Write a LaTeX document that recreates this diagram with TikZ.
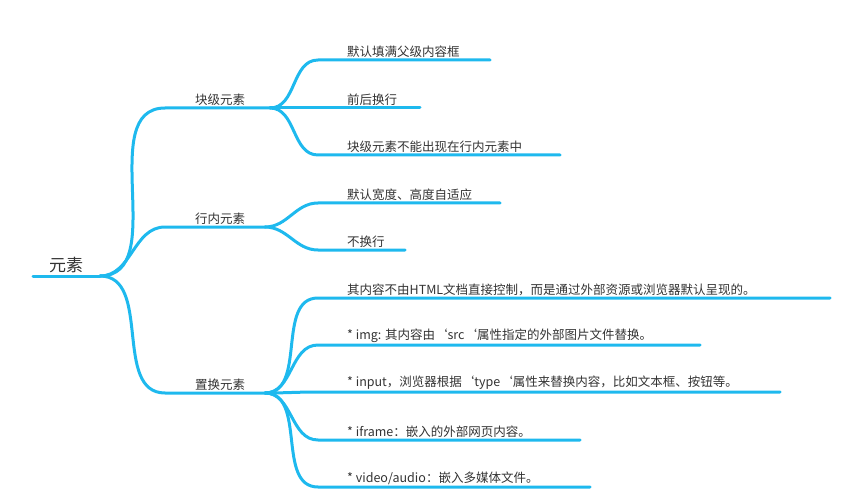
\documentclass[tikz,border=0pt]{standalone}
\usepackage{fontspec}
\setmainfont{Noto Sans CJK SC}
\definecolor{branchblue}{HTML}{1EB9EE}
\definecolor{textgray}{HTML}{333333}
\tikzset{
  edge/.style={branchblue, line width=3pt, line cap=round},
  leaf/.style={anchor=south west, inner sep=2pt, text=textgray, font=\fontsize{12.5}{14}\selectfont},
  topic/.style={anchor=south, inner sep=2pt, text=textgray, font=\fontsize{12.5}{14}\selectfont}
}
\begin{document}
\begin{tikzpicture}[x=1pt,y=-1pt]
  \useasboundingbox (0,0) rectangle (860,500);

  % root
  \coordinate (r0) at (33,276);
  \coordinate (r1) at (100,276);
  \node[anchor=south, inner sep=3pt, text=textgray, font=\fontsize{17}{20}\selectfont] (root) at (66,276) {元素};
  \draw[edge] (r0) -- (r1);

  % main branches
  \coordinate (b1s) at (165,108); \coordinate (b1e) at (270,108);
  \coordinate (b2s) at (165,227); \coordinate (b2e) at (265,227);
  \coordinate (b3s) at (165,393); \coordinate (b3e) at (265,393);
  \node[topic] (block) at (220,108) {块级元素};
  \node[topic] (inline) at (220,227) {行内元素};
  \node[topic] (replaced) at (220,393) {置换元素};
  \foreach \b in {b1,b2,b3}
    \draw[edge] (r1) to[out=0,in=180] (\b s) -- (\b e);

  % leaves: name/start-y/end-x/text/parent
  \foreach \n/\y/\e/\t/\p in {
      l1/60/490/{默认填满父级内容框}/b1e,
      l2/108/420/{前后换行}/b1e,
      l3/155/560/{块级元素不能出现在行内元素中}/b1e,
      l4/203/500/{默认宽度、高度自适应}/b2e,
      l5/250/405/{不换行}/b2e,
      l6/298/830/{其内容不由HTML文档直接控制，而是通过外部资源或浏览器默认呈现的。}/b3e,
      l7/345/700/{* img: 其内容由`src`属性指定的外部图片文件替换。}/b3e,
      l8/392/780/{* input，浏览器根据`type`属性来替换内容，比如文本框、按钮等。}/b3e,
      l9/440/580/{* iframe：嵌入的外部网页内容。}/b3e,
      l10/487/590/{* video/audio：嵌入多媒体文件。}/b3e}{
    \coordinate (\n s) at (318,\y);
    \coordinate (\n e) at (\e,\y);
    \node[leaf] (\n) at (345,\y) {\t};
    \draw[edge] (\p) to[out=0,in=180] (\n s) -- (\n e);
  }
\end{tikzpicture}
\end{document}
